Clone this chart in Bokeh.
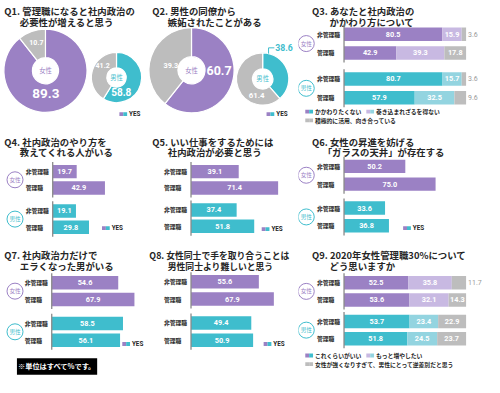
import numpy as np
from bokeh.plotting import figure
from bokeh.layouts import row, column
from bokeh.models import Range1d
from bokeh.core.properties import value
from bokeh.embed import file_html
from bokeh.resources import INLINE

# ---------------- data ----------------
groups = ["女性", "男性"]
roles = ["非管理職", "管理職"]
yes_label = "YES"
note_text = "※単位はすべて%です。"

q1_title = ["Q1. 管理職になると社内政治の", "必要性が増えると思う"]
q1_women = [89.3, 10.7]   # YES, other
q1_men = [58.8, 41.2]

q2_title = ["Q2. 男性の同僚から", "嫉妬されたことがある"]
q2_women = [60.7, 39.3]
q2_men = [38.6, 61.4]

q3_title = ["Q3. あなたと社内政治の", "かかわり方について"]
q3_series = ["かかわりたくない", "巻き込まれざるを得ない", "積極的に活用、向き合っている"]
q3_women_nonmgr = [80.5, 15.9, 3.6]
q3_women_mgr = [42.9, 39.3, 17.8]
q3_men_nonmgr = [80.7, 15.7, 3.6]
q3_men_mgr = [57.9, 32.5, 9.6]

q4_title = ["Q4. 社内政治のやり方を", "教えてくれる人がいる"]
q4_women = [19.7, 42.9]   # 非管理職, 管理職
q4_men = [19.1, 29.8]

q5_title = ["Q5. いい仕事をするためには", "社内政治が必要と思う"]
q5_women = [39.1, 71.4]
q5_men = [37.4, 51.8]

q6_title = ["Q6. 女性の昇進を妨げる", "「ガラスの天井」が存在する"]
q6_women = [50.2, 75.0]
q6_men = [33.6, 36.8]

q7_title = ["Q7. 社内政治力だけで", "エラくなった男がいる"]
q7_women = [54.6, 67.9]
q7_men = [58.5, 56.1]

q8_title = ["Q8. 女性同士で手を取り合うことは", "男性同士より難しいと思う"]
q8_women = [55.6, 67.9]
q8_men = [49.4, 50.9]

q9_title = ["Q9. 2020年女性管理職30%について", "どう思いますか"]
q9_series = ["これくらいがいい", "もっと増やしたい", "女性が強くなりすぎて、男性にとって逆差別だと思う"]
q9_women_nonmgr = [52.5, 35.8, 11.7]
q9_women_mgr = [53.6, 32.1, 14.3]
q9_men_nonmgr = [53.7, 23.4, 22.9]
q9_men_mgr = [51.8, 24.5, 23.7]

# ---------------- style / layout ----------------
PURPLE = "#9b81c4"
TEAL = "#3fbdcd"
LPURPLE = "#c8b9e2"
LTEAL = "#93d4e0"
GRAY = "#bdbdbd"
DARK = "#262626"
AXIS = "#8a8a8a"
JP = value("Noto Sans CJK JP")
NUM = value("Roboto")

COL_EDGES = [0, 150, 308, 500]     # reference-pixel layout grid
ROW_EDGES = [0, 133, 254, 393]
COL_PX = [145, 153, 186]
ROW_PX = [128, 116, 133]
K = 1.26        # reference px per percentage point
BH = 14         # bar thickness (reference px)
TITLE_X = [4, 7, 14]
TITLE_Y = [(10.5, 22.0), (14.0, 25.0), (11.0, 22.5)]
AX3 = 47        # axis position in the right-hand column


class Panel:
    def __init__(self, ci, ri, ax=None):
        self.ci, self.ri = ci, ri
        self.w = COL_EDGES[ci + 1] - COL_EDGES[ci]
        self.h = ROW_EDGES[ri + 1] - ROW_EDGES[ri]
        if ax is None:
            self.x0, self.kx, self.flip = 0.0, 1.0, False
            xr, yr = Range1d(0, self.w), Range1d(0, self.h)
        else:
            self.x0, self.kx, self.flip = float(ax), 1.0 / K, True
            xr, yr = Range1d(-ax / K, (self.w - ax) / K), Range1d(self.h, 0)
        p = figure(width=COL_PX[ci], height=ROW_PX[ri], x_range=xr, y_range=yr,
                   output_backend="svg", toolbar_location=None, min_border=0,
                   x_axis_location=None, y_axis_location=None, title_location=None,
                   outline_line_color=None, background_fill_color="white",
                   border_fill_color="white")
        p.xgrid.visible = False
        p.ygrid.visible = False
        self.p = p

    def X(self, px):
        return (px - self.x0) * self.kx

    def Y(self, py):
        return py if self.flip else self.h - py


def draw_title(pn, lines, size=9.4, x=None, indent=16):
    x = TITLE_X[pn.ci] if x is None else x
    y1, y2 = TITLE_Y[pn.ri]
    pn.p.text(x=[pn.X(x), pn.X(x + indent)], y=[pn.Y(y1), pn.Y(y2)], text=list(lines),
              text_font=JP, text_font_style="bold", text_font_size=f"{size}px",
              text_color=DARK, text_baseline="middle", text_align="left")


def yes_legend(pn, left, y):
    p = pn.p
    p.rect(x=[pn.X(left + 2), pn.X(left + 6)], y=[pn.Y(y)] * 2, width=4 * pn.kx, height=4,
           fill_color=[PURPLE, TEAL], line_color=None)
    p.text(x=[pn.X(left + 10)], y=[pn.Y(y)], text=[yes_label], text_font=NUM,
           text_font_style="bold", text_font_size="6.3px", text_color=DARK,
           text_baseline="middle", text_align="left")


def donut(pn, cx, cy, R, r, vals, colors, center, center_color, labels):
    p = pn.p
    v = np.asarray(vals, float)
    fr = v / v.sum()
    cum = np.cumsum(fr)
    start = np.pi / 2 - 2 * np.pi * cum
    end = np.pi / 2 - 2 * np.pi * (cum - fr)
    p.annular_wedge(x=pn.X(cx), y=pn.Y(cy), inner_radius=r, outer_radius=R,
                    start_angle=start, end_angle=end, fill_color=colors,
                    line_color="white", line_width=1.2)
    p.text(x=[pn.X(cx)], y=[pn.Y(cy)], text=[center], text_font=JP, text_font_size="6.3px",
           text_color=center_color, text_align="center", text_baseline="middle")
    for val, spec in zip(vals, labels):
        if spec is None:
            continue
        ang, rad, size = spec
        a = np.radians(ang)
        p.text(x=[pn.X(cx + rad * np.sin(a))], y=[pn.Y(cy - rad * np.cos(a))],
               text=[f"{val:.1f}"], text_font=NUM, text_font_style="bold",
               text_font_size=f"{size}px", text_color="white",
               text_align="center", text_baseline="middle")


def row_positions(y0, pitch, gap):
    return [y0, y0 + pitch, y0 + 2 * pitch + gap, y0 + 3 * pitch + gap]


def bar_frame(pn, ax, ys, badge_x):
    p = pn.p
    tops = [ys[0] - BH / 2 - 3, ys[2] - BH / 2 - 3]
    bots = [ys[1] + BH / 2 + 3, ys[3] + BH / 2 + 3]
    p.segment(x0=[0, 0], y0=tops, x1=[0, 0], y1=bots, line_color=AXIS, line_width=1.3)
    p.text(x=[pn.X(ax - 28)] * 4, y=ys, text=roles * 2, text_font=JP, text_font_style="bold",
           text_font_size="5.8px", text_color=DARK, text_baseline="middle", text_align="left")
    if badge_x is not None:
        gy = [(ys[0] + ys[1]) / 2, (ys[2] + ys[3]) / 2]
        p.scatter(x=[pn.X(badge_x)] * 2, y=gy, marker="circle", size=16,
                  fill_color="white", line_color=[PURPLE, TEAL], line_width=1)
        p.text(x=[pn.X(badge_x)] * 2, y=gy, text=groups, text_font=JP,
               text_font_size="5.6px", text_color=[PURPLE, TEAL],
               text_align="center", text_baseline="middle")


def simple_bars(pn, women, men, ys):
    p = pn.p
    vals = list(women) + list(men)
    colors = [PURPLE, PURPLE, TEAL, TEAL]
    p.hbar(y=ys, left=0, right=vals, height=BH, fill_color=colors, line_color=None)
    p.text(x=[v / 2 for v in vals], y=ys, text=[f"{v:.1f}" for v in vals], text_font=NUM,
           text_font_style="bold", text_font_size="7.3px", text_color="white",
           text_align="center", text_baseline="middle")


def stacked_bars(pn, rows, ys):
    p = pn.p
    L, Rt, Y, C = [], [], [], []
    ix, iy, it, ox, oy, ot = [], [], [], [], [], []
    for i, vals in enumerate(rows):
        pal = [PURPLE, LPURPLE, GRAY] if i < 2 else [TEAL, LTEAL, GRAY]
        c = np.cumsum(vals)
        for j, v in enumerate(vals):
            L.append(c[j] - v); Rt.append(c[j]); Y.append(ys[i]); C.append(pal[j])
            if j == len(vals) - 1 and v < 12:
                ox.append(c[-1] + 2 / K); oy.append(ys[i]); ot.append(f"{v:.1f}")
            else:
                ix.append(c[j] - v / 2); iy.append(ys[i]); it.append(f"{v:.1f}")
    p.hbar(y=Y, left=L, right=Rt, height=BH, fill_color=C, line_color=None)
    p.text(x=ix, y=iy, text=it, text_font=NUM, text_font_style="bold", text_font_size="7.3px",
           text_color="white", text_align="center", text_baseline="middle")
    p.text(x=ox, y=oy, text=ot, text_font=NUM, text_font_size="7px", text_color="#9a9a9a",
           text_align="left", text_baseline="middle")


def series_legend(pn, names, y1, y2, pairs):
    p = pn.p
    spots = [(7, y1), (70, y1), (7, y2)]
    xs, ys, cs, tx, ty = [], [], [], [], []
    for (left, yy), (ca, cb) in zip(spots, pairs):
        xs += [pn.X(left + 2), pn.X(left + 6)]; ys += [pn.Y(yy)] * 2; cs += [ca, cb]
        tx.append(pn.X(left + 10)); ty.append(pn.Y(yy))
    p.rect(x=xs, y=ys, width=4 * pn.kx, height=4, fill_color=cs, line_color=None)
    p.text(x=tx, y=ty, text=list(names), text_font=JP, text_font_style="bold",
           text_font_size="5.8px", text_color=DARK, text_align="left", text_baseline="middle")


# ---------------- Q1 ----------------
P1 = Panel(0, 0)
draw_title(P1, q1_title)
donut(P1, 46.5, 73, 43, 13.5, q1_women, [PURPLE, GRAY], groups[0], PURPLE,
      [(179, 24, 13.5), (-17.6, 31, 7)])
donut(P1, 120, 80, 26, 10, q1_men, [TEAL, GRAY], groups[1], TEAL,
      [(162, 16, 10), (311, 19, 7)])
yes_legend(P1, 123, 118)

# ---------------- Q2 ----------------
P2 = Panel(1, 0)
draw_title(P2, q2_title)
donut(P2, 47.5, 72.5, 44, 14, q2_women, [PURPLE, GRAY], groups[0], PURPLE,
      [(90, 28.5, 12.5), (-76, 22, 7.3)])
mcx, mcy, mR = 121, 81.5, 27
donut(P2, mcx, mcy, mR, 10.5, q2_men, [TEAL, GRAY], groups[1], TEAL,
      [None, (200, 18, 7.8)])
th = np.radians(13)
sx0, sy0 = mcx + mR * np.sin(th), mcy - mR * np.cos(th)
P2.p.line(x=[P2.X(sx0), P2.X(sx0), P2.X(sx0 + 6)], y=[P2.Y(sy0), P2.Y(sy0 - 6), P2.Y(sy0 - 6)],
          line_color=TEAL, line_width=1)
P2.p.text(x=[P2.X(sx0 + 7)], y=[P2.Y(sy0 - 6)], text=[f"{q2_men[0]:.1f}"], text_font=NUM,
          text_font_style="bold", text_font_size="8.7px", text_color=TEAL,
          text_align="left", text_baseline="middle")
yes_legend(P2, 125, 118)

# ---------------- Q3 ----------------
P3 = Panel(2, 0, ax=AX3)
draw_title(P3, q3_title, indent=18)
ys3 = row_positions(35, 19.5, 7.5)
stacked_bars(P3, [q3_women_nonmgr, q3_women_mgr, q3_men_nonmgr, q3_men_mgr], ys3)
bar_frame(P3, AX3, ys3, 8)
series_legend(P3, q3_series, 115.5, 124.5, [(PURPLE, TEAL), (LPURPLE, LTEAL), (GRAY, GRAY)])

# ---------------- Q4 ----------------
P4 = Panel(0, 1, ax=54)
draw_title(P4, q4_title)
ys4 = row_positions(45, 17, 7)
simple_bars(P4, q4_women, q4_men, ys4)
bar_frame(P4, 54, ys4, 15)
yes_legend(P4, 105, 104)

# ---------------- Q5 ----------------
P5 = Panel(1, 1, ax=47)
draw_title(P5, q5_title)
ys5 = row_positions(45, 17, 6)
simple_bars(P5, q5_women, q5_men, ys5)
bar_frame(P5, 47, ys5, None)
yes_legend(P5, 120, 105)

# ---------------- Q6 ----------------
P6 = Panel(2, 1, ax=AX3)
draw_title(P6, q6_title, indent=11)
ys6 = row_positions(39.5, 18.5, 6.5)
simple_bars(P6, q6_women, q6_men, ys6)
bar_frame(P6, AX3, ys6, 8)
yes_legend(P6, 108, 104)

# ---------------- Q7 ----------------
P7 = Panel(0, 2, ax=53)
draw_title(P7, q7_title)
ys7 = row_positions(40, 17.5, 7.5)
simple_bars(P7, q7_women, q7_men, ys7)
bar_frame(P7, 53, ys7, 15)
yes_legend(P7, 126, 104)
P7.p.rect(x=[P7.X(58.5)], y=[P7.Y(127.5)], width=83 * P7.kx, height=17,
          fill_color="black", line_color=None)
P7.p.text(x=[P7.X(58.5)], y=[P7.Y(127.5)], text=[note_text], text_font=JP,
          text_font_style="bold", text_font_size="7.2px", text_color="white",
          text_align="center", text_baseline="middle")

# ---------------- Q8 ----------------
P8 = Panel(1, 2, ax=47)
draw_title(P8, q8_title, size=8.8, x=4, indent=19)
ys8 = row_positions(39, 18, 7)
simple_bars(P8, q8_women, q8_men, ys8)
bar_frame(P8, 47, ys8, None)
yes_legend(P8, 122, 104)

# ---------------- Q9 ----------------
P9 = Panel(2, 2, ax=AX3)
draw_title(P9, q9_title, indent=18)
ys9 = row_positions(40, 18, 4.5)
stacked_bars(P9, [q9_women_nonmgr, q9_women_mgr, q9_men_nonmgr, q9_men_mgr], ys9)
bar_frame(P9, AX3, ys9, 8)
series_legend(P9, q9_series, 116, 125, [(PURPLE, TEAL), (LPURPLE, LTEAL), (GRAY, GRAY)])

p = column(row(P1.p, P2.p, P3.p), row(P4.p, P5.p, P6.p), row(P7.p, P8.p, P9.p))

open("out.html", "w").write(file_html(p, INLINE))
